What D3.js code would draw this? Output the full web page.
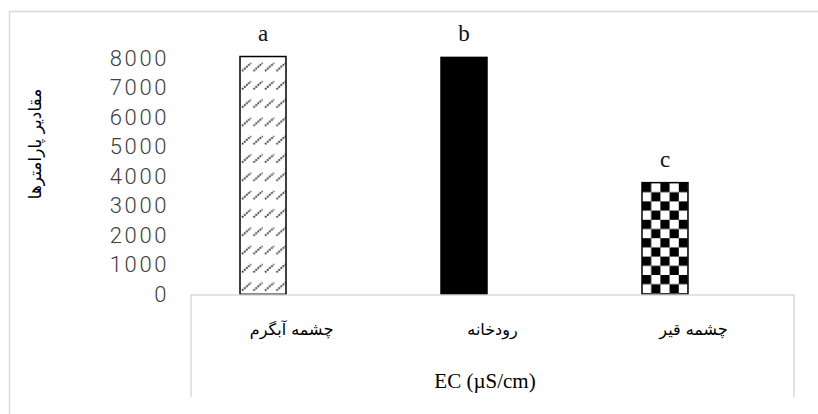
<!DOCTYPE html>
<html>
<head>
<meta charset="utf-8">
<script src="https://cdn.jsdelivr.net/npm/d3@7"></script>
<style>
  body { margin: 0; background: #fff; }
</style>
</head>
<body>
<div id="chart"></div>
<script>
const categories = ['چشمه آبگرم', 'رودخانه', 'چشمه قیر'];
const values = [8050, 8020, 3780];
const letters = ['a', 'b', 'c'];
const yTicks = [0, 1000, 2000, 3000, 4000, 5000, 6000, 7000, 8000];
const fills = ['url(#hatch)', '#000', 'url(#checker)'];

const width = 818;
const height = 414;

const svg = d3.select('#chart')
    .append('svg')
    .attr('width', width)
    .attr('height', height);

const defs = svg.append('defs');

// dotted diagonal hatch like the Excel pattern
const hatch = defs.append('pattern')
    .attr('id', 'hatch')
    .attr('patternUnits', 'userSpaceOnUse')
    .attr('x', 241).attr('y', 60)
    .attr('width', 11.5)
    .attr('height', 18.3);
hatch.append('rect').attr('width', 11.5).attr('height', 18.3).attr('fill', '#fff');
hatch.append('line')
    .attr('x1', 1).attr('y1', 11)
    .attr('x2', 10).attr('y2', 3)
    .attr('stroke', '#333')
    .attr('stroke-width', 1.8)
    .attr('stroke-dasharray', '1.8 1');

const cell = 9.2;
const checker = defs.append('pattern')
    .attr('id', 'checker')
    .attr('patternUnits', 'userSpaceOnUse')
    .attr('x', 642).attr('y', 183)
    .attr('width', cell * 2)
    .attr('height', cell * 2);
checker.append('rect').attr('width', cell * 2).attr('height', cell * 2).attr('fill', '#fff');
checker.append('rect').attr('width', cell).attr('height', cell).attr('fill', '#000');
checker.append('rect').attr('x', cell).attr('y', cell).attr('width', cell).attr('height', cell).attr('fill', '#000');

// outer chart frame
svg.append('rect')
    .attr('x', 9.5).attr('y', 11.5)
    .attr('width', 830).attr('height', 420)
    .attr('fill', 'none')
    .attr('stroke', '#d9d9d9')
    .attr('stroke-width', 1.5);

const y = d3.scaleLinear()
    .domain([0, 8000])
    .range([294.3, 58]);

const x = d3.scaleBand()
    .domain(categories)
    .range([162.5, 765.5]);

const xLabel = d3.scaleBand()
    .domain(categories)
    .range([191, 794]);

const barW = 46;

// y axis labels only
const yAxis = svg.append('g')
    .attr('transform', 'translate(169,0)')
    .call(d3.axisLeft(y).tickValues(yTicks).tickSize(0).tickPadding(0).tickFormat(d3.format('d')));
yAxis.select('.domain').remove();
yAxis.selectAll('text')
    .attr('font-family', 'Roboto, sans-serif')
    .attr('font-weight', 300)
    .attr('font-size', 22)
    .attr('letter-spacing', 2.6)
    .attr('fill', '#404040');

svg.append('g')
    .selectAll('rect')
    .data(values)
    .enter()
    .append('rect')
    .attr('x', (d, i) => x(categories[i]) + x.bandwidth() / 2 - barW / 2)
    .attr('y', d => y(d))
    .attr('width', barW)
    .attr('height', d => y(0) - y(d))
    .attr('fill', (d, i) => fills[i])
    .attr('stroke', '#000')
    .attr('stroke-width', 1.5);

svg.append('g')
    .selectAll('text')
    .data(values)
    .enter()
    .append('text')
    .attr('x', (d, i) => x(categories[i]) + x.bandwidth() / 2)
    .attr('y', d => y(d) - 16)
    .attr('text-anchor', 'middle')
    .attr('font-family', 'Liberation Serif, serif')
    .attr('font-size', 23)
    .attr('fill', '#111')
    .text((d, i) => letters[i]);

// category box
svg.append('path')
    .attr('d', 'M191,397 V295 H794 V397')
    .attr('fill', 'none')
    .attr('stroke', '#d9d9d9')
    .attr('stroke-width', 1.5);

svg.append('g')
    .selectAll('text')
    .data(categories)
    .enter()
    .append('text')
    .attr('x', d => xLabel(d) + xLabel.bandwidth() / 2)
    .attr('y', 335)
    .attr('text-anchor', 'middle')
    .attr('direction', 'rtl')
    .attr('font-family', 'DejaVu Sans, serif')
    .attr('font-size', 16)
    .text(d => d);

svg.append('text')
    .attr('x', 485)
    .attr('y', 388)
    .attr('text-anchor', 'middle')
    .attr('font-family', 'Liberation Serif, serif')
    .attr('font-size', 21)
    .text('EC (µS/cm)');

svg.append('text')
    .attr('transform', 'translate(41,144) rotate(-90)')
    .attr('text-anchor', 'middle')
    .attr('direction', 'rtl')
    .attr('font-family', 'DejaVu Sans, sans-serif')
    .attr('font-size', 17)
    .text('مقادیر پارامترها');
</script>
</body>
</html>
